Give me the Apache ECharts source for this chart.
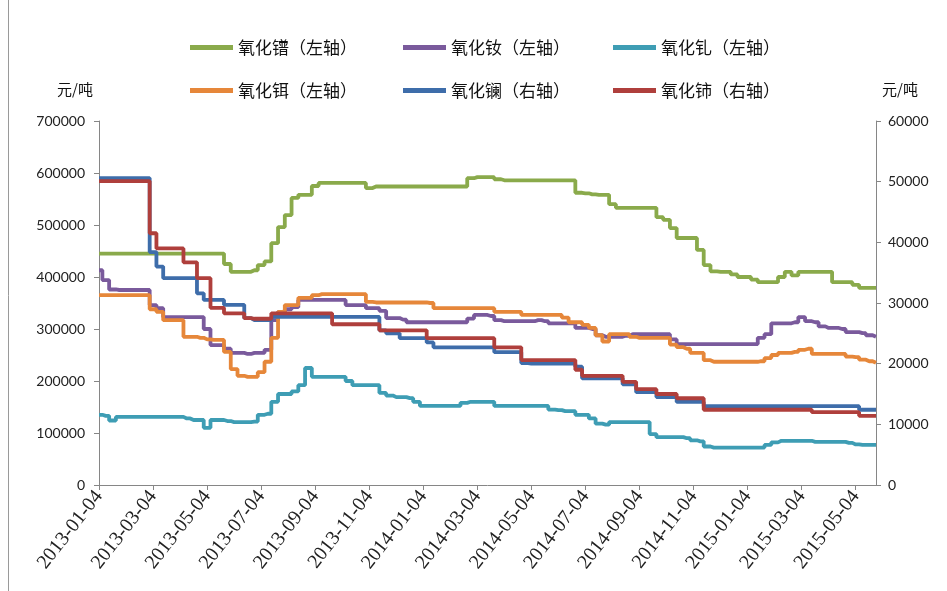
<!DOCTYPE html>
<html><head><meta charset="utf-8">
<script src="https://cdn.jsdelivr.net/npm/echarts@6/dist/echarts.min.js"></script>
<style>html,body{margin:0;padding:0;background:#fff}#c{width:947px;height:591px}</style>
</head><body><div id="c"></div>
<script>
// ---- categories (dates, 4 points per month) ----
const dayParts = ['04', '11', '18', '25'];
const categories = [];
for (let m = 0; m < 29; m++) {
  const y = 2013 + Math.floor(m / 12);
  const mo = String(m % 12 + 1).padStart(2, '0');
  dayParts.forEach(d => categories.push(y + '-' + mo + '-' + d));
}

// ---- series names ----
const nameGreen = '氧化镨（左轴）';
const namePurple = '氧化钕（左轴）';
const nameCyan = '氧化钆（左轴）';
const nameOrange = '氧化铒（左轴）';
const nameBlue = '氧化镧（右轴）';
const nameRed = '氧化铈（右轴）';

// ---- values (元/吨) ----
const green = [
445000,445000,445000,445000,445000,445000,445000,445000,445000,445000,
445000,445000,445000,445000,445000,445000,445000,445000,445000,425000,
410000,410000,410000,413000,423000,430000,465000,496000,519000,552000,
558000,558000,575000,581000,581000,581000,581000,581000,581000,581000,
571000,574000,574000,574000,574000,574000,574000,574000,574000,574000,
574000,574000,574000,574000,574000,590000,592000,592000,592000,588000,
586000,586000,586000,586000,586000,586000,586000,586000,586000,586000,
586000,562000,561000,559000,558000,558000,540000,533000,533000,533000,
533000,533000,533000,515000,510000,494000,475000,475000,475000,452000,
423000,411000,410000,410000,405000,400000,400000,395000,390000,390000,
390000,400000,410000,403000,410000,410000,410000,410000,410000,390000,
390000,390000,385000,379000,379000,379000];

const purple = [
413000,394000,376000,375000,375000,375000,375000,375000,346000,340000,
323000,323000,323000,323000,323000,323000,300000,269000,269000,262000,
254000,254000,252000,254000,254000,260000,317000,333000,338000,342000,
356000,356000,356000,356000,356000,356000,356000,346000,346000,346000,
340000,340000,335000,321000,321000,318000,313000,313000,313000,313000,
313000,313000,313000,313000,313000,320000,327000,327000,325000,317000,
315000,315000,315000,315000,315000,317000,315000,311000,311000,311000,
311000,302000,302000,300000,288000,285000,285000,285000,287000,290000,
290000,290000,290000,290000,290000,280000,271000,271000,271000,271000,
271000,271000,271000,271000,271000,271000,271000,271000,283000,290000,
311000,311000,311000,313000,323000,315000,313000,305000,302000,302000,
300000,294000,294000,292000,288000,285000];

const cyan = [
135000,133000,124000,131000,131000,131000,131000,131000,131000,131000,
131000,131000,131000,128000,125000,125000,110000,125000,125000,123000,
121000,121000,121000,122000,135000,137000,160000,175000,175000,180000,
192000,225000,208000,208000,208000,208000,208000,200000,192000,192000,
192000,192000,177000,172000,169000,169000,167000,160000,152000,152000,
152000,152000,152000,152000,158000,160000,160000,160000,160000,152000,
152000,152000,152000,152000,152000,152000,152000,145000,144000,142000,
142000,135000,135000,128000,118000,116000,121000,121000,121000,121000,
121000,121000,98000,92000,92000,92000,92000,90000,86000,84000,
74000,72000,72000,72000,72000,72000,72000,72000,72000,77000,
82000,85000,85000,85000,85000,85000,83000,83000,83000,83000,
83000,81000,78000,77000,77000,77000];

const orange = [
365000,365000,365000,365000,365000,365000,365000,365000,338000,333000,
317000,317000,317000,285000,285000,283000,280000,279000,279000,256000,
223000,210000,208000,208000,217000,237000,283000,333000,346000,346000,
360000,360000,365000,367000,367000,367000,367000,367000,367000,367000,
352000,351000,351000,351000,351000,351000,351000,351000,351000,350000,
340000,340000,340000,340000,340000,340000,340000,340000,340000,333000,
333000,333000,333000,327000,327000,327000,327000,327000,327000,322000,
313000,313000,308000,302000,288000,276000,290000,290000,290000,285000,
283000,283000,283000,283000,283000,270000,265000,262000,254000,254000,
240000,237000,237000,237000,237000,237000,237000,237000,238000,244000,
250000,254000,254000,256000,260000,262000,252000,252000,252000,252000,
252000,247000,246000,241000,238000,235000];

const blue = [
50600,50600,50600,50600,50600,50600,50600,50600,38400,36000,
34100,34100,34100,34100,34100,31600,30500,30500,30500,29700,
29700,29700,27500,27200,27200,27200,27700,27700,27700,27700,
27700,27700,27700,27700,27700,27700,27700,27700,27700,27700,
27700,27700,25500,25000,25000,24200,24200,24200,24200,23500,
22700,22700,22700,22700,22700,22700,22700,22700,22700,21900,
21900,21900,21900,20100,20000,20000,20000,20000,20000,20000,
20000,19500,17600,17600,17600,17600,17600,17600,16600,16600,
15300,15300,15300,14500,14500,14500,13700,13700,13700,13700,
13000,13000,13000,13000,13000,13000,13000,13000,13000,13000,
13000,13000,13000,13000,13000,13000,13000,13000,13000,13000,
13000,13000,13000,12400,12400,12400];

const red = [
50100,50100,50100,50100,50100,50100,50100,50100,41500,39000,
39000,39000,39000,36700,36700,34100,34100,29200,29200,28300,
28300,28300,27500,27400,27400,27400,28300,28300,28300,28300,
28300,28300,28300,28300,28300,26500,26500,26500,26500,26500,
26500,26500,25500,25500,25500,25500,25500,25500,25500,24200,
24200,24200,24200,24200,24200,24200,24200,24200,24200,22700,
22700,22700,22700,20600,20600,20600,20600,20600,20600,20600,
20600,19000,18000,18000,18000,18000,18000,18000,17000,17000,
15800,15800,15800,15000,15000,15000,14300,14300,14300,14300,
12400,12400,12400,12400,12400,12400,12400,12400,12400,12400,
12400,12400,12400,12400,12400,12400,12000,12000,12000,12000,
12000,12000,12000,11400,11400,11400];

// ---- axis ticks ----
const leftAxisMax = 700000, leftAxisStep = 100000;
const rightAxisMax = 60000, rightAxisStep = 10000;
const unitName = '元/吨';

const colors = {
  green: '#8AAA4B', purple: '#7A5A9C', cyan: '#3E9DB4',
  orange: '#E6873A', blue: '#3E6DAA', red: '#AF3F3C'
};

const cjk = '"Noto Sans CJK SC", sans-serif';
const chart = echarts.init(document.getElementById('c'), null, {renderer: 'canvas'});

function mkSeries(name, data, color, yAxisIndex) {
  return {
    name, type: 'line', data, yAxisIndex, step: 'middle',
    showSymbol: false, symbol: 'none',
    lineStyle: {width: 3.8, color}, itemStyle: {color},
    emphasis: {disabled: true}
  };
}
function mkLegend(name, left, top) {
  return {
    data: [name], left, top, icon: 'rect', itemWidth: 43, itemHeight: 5,
    itemGap: 6, selectedMode: false,
    textStyle: {fontFamily: cjk, fontSize: 17, color: '#111'}
  };
}

const axisLineStyle = {lineStyle: {color: '#868686', width: 1}};
const plain = v => String(v);

chart.setOption({
  animation: false,
  backgroundColor: '#fff',
  graphic: [{
    type: 'line', shape: {x1: 8.5, y1: 0, x2: 8.5, y2: 591},
    style: {stroke: '#9a9a9a', lineWidth: 1}
  }],
  legend: [
    mkLegend(nameGreen, 185, 34), mkLegend(namePurple, 398, 34), mkLegend(nameCyan, 608, 34),
    mkLegend(nameOrange, 185, 77), mkLegend(nameBlue, 398, 77), mkLegend(nameRed, 608, 77)
  ],
  grid: {left: 99, right: 71, top: 121, bottom: 106, containLabel: false},
  xAxis: {
    type: 'category', data: categories, boundaryGap: false,
    axisLine: axisLineStyle,
    axisTick: {interval: 7, length: 5, lineStyle: {color: '#868686'}},
    axisLabel: {
      interval: 7, rotate: 52, margin: 8,
      fontFamily: 'Liberation Serif', fontSize: 20, color: '#222'
    },
    splitLine: {show: false}
  },
  yAxis: [{
    type: 'value', min: 0, max: leftAxisMax, interval: leftAxisStep, position: 'left',
    name: unitName, nameLocation: 'end', nameGap: 24,
    nameTextStyle: {fontFamily: cjk, fontSize: 15, color: '#111', align: 'right', padding: [0, 6, 0, 0]},
    axisLine: {show: true, lineStyle: {color: '#868686'}},
    axisTick: {show: true, length: 5, lineStyle: {color: '#868686'}},
    axisLabel: {margin: 14, fontFamily: 'Lato, sans-serif', fontSize: 14, color: '#222', formatter: plain},
    splitLine: {show: false}
  }, {
    type: 'value', min: 0, max: rightAxisMax, interval: rightAxisStep, position: 'right',
    name: unitName, nameLocation: 'end', nameGap: 24,
    nameTextStyle: {fontFamily: cjk, fontSize: 15, color: '#111', align: 'left', padding: [0, 0, 0, 6]},
    axisLine: {show: true, lineStyle: {color: '#868686'}},
    axisTick: {show: true, length: 5, lineStyle: {color: '#868686'}},
    axisLabel: {margin: 12, fontFamily: 'Lato, sans-serif', fontSize: 14, color: '#222', formatter: plain},
    splitLine: {show: false}
  }],
  series: [
    mkSeries(nameGreen, green, colors.green, 0),
    mkSeries(namePurple, purple, colors.purple, 0),
    mkSeries(nameCyan, cyan, colors.cyan, 0),
    mkSeries(nameOrange, orange, colors.orange, 0),
    mkSeries(nameBlue, blue, colors.blue, 1),
    mkSeries(nameRed, red, colors.red, 1)
  ]
});
</script>
</body></html>
